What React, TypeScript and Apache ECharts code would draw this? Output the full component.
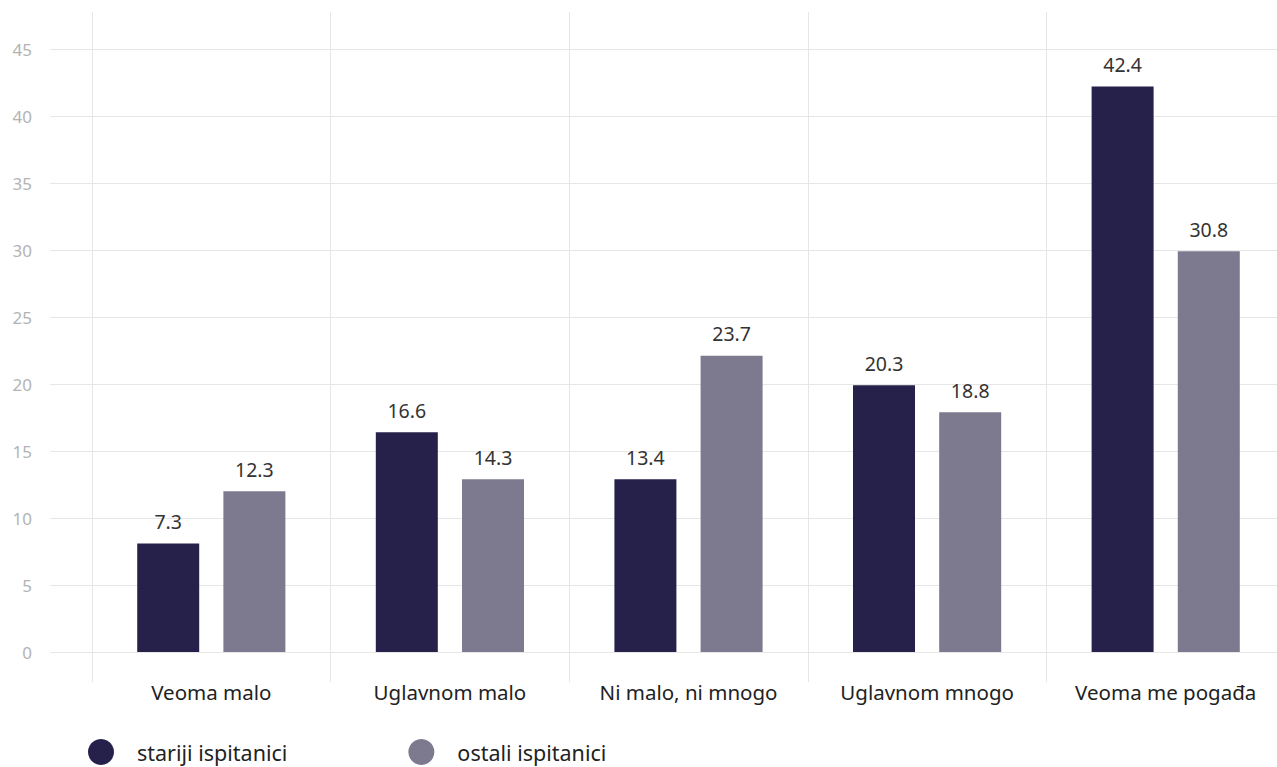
import React, { useEffect, useRef } from "react";
import * as echarts from "echarts";

const categories = ["Veoma malo", "Uglavnom malo", "Ni malo, ni mnogo", "Uglavnom mnogo", "Veoma me pogađa"];
const seriesNames = ["stariji ispitanici", "ostali ispitanici"];
// bar heights as drawn
const olderValues = [8.1, 16.4, 12.9, 19.9, 42.2];
const otherValues = [12.0, 12.9, 22.1, 17.9, 29.9];
// labels as printed
const olderLabels = ["7.3", "16.6", "13.4", "20.3", "42.4"];
const otherLabels = ["12.3", "14.3", "23.7", "18.8", "30.8"];

const FONT = "'Noto Sans', 'Open Sans', sans-serif";

export default function App() {
  const ref = useRef<HTMLDivElement>(null);
  useEffect(() => {
    document.body.style.margin = "0";
    const chart = echarts.init(ref.current!, null, { renderer: "svg" });
    const labelStyle = (labels: string[]) => ({
      show: true,
      position: "top",
      distance: 12,
      color: "#333",
      fontSize: 19.5,
      fontFamily: FONT,
      formatter: (p: any) => labels[p.dataIndex],
    });
    chart.setOption({
      animation: false,
      textStyle: { fontFamily: FONT },
      grid: [
        { left: 50, right: 13, top: 49, bottom: 115 },
        { left: 92, width: 1193, top: 12, bottom: 85 },
        { left: 92, width: 1193, top: 49, bottom: 115 },
      ],
      xAxis: [
        { type: "value", gridIndex: 0, show: false },
        {
          type: "category",
          gridIndex: 1,
          data: categories,
          axisLine: { show: false },
          axisTick: { show: false },
          splitLine: { show: true, lineStyle: { color: "#e6e6e6", width: 1 } },
          axisLabel: { color: "#222", fontSize: 20.5, margin: -1, fontFamily: FONT },
        },
        { type: "category", gridIndex: 2, data: categories, show: false },
      ],
      yAxis: [
        {
          type: "value",
          gridIndex: 0,
          min: 0,
          max: 45,
          interval: 5,
          axisLine: { show: false },
          axisTick: { show: false },
          splitLine: { show: true, lineStyle: { color: "#e6e6e6", width: 1 } },
          axisLabel: { color: "#b3b3b3", fontSize: 17, margin: 18, fontFamily: FONT },
        },
        { type: "value", gridIndex: 1, show: false },
        { type: "value", gridIndex: 2, min: 0, max: 45, show: false },
      ],
      legend: {
        data: seriesNames,
        left: 83,
        top: 734,
        icon: "circle",
        itemWidth: 26,
        itemHeight: 26,
        itemGap: 121,
        textStyle: { color: "#222", fontSize: 21.5, fontFamily: FONT, padding: [0, 0, 0, 18] },
      },
      series: [
        {
          name: seriesNames[0],
          type: "bar",
          xAxisIndex: 2,
          yAxisIndex: 2,
          data: olderValues,
          barWidth: 62,
          barGap: "39%",
          itemStyle: { color: "#26214a" },
          label: labelStyle(olderLabels),
        },
        {
          name: seriesNames[1],
          type: "bar",
          xAxisIndex: 2,
          yAxisIndex: 2,
          data: otherValues,
          barWidth: 62,
          barGap: "39%",
          itemStyle: { color: "#7d798f" },
          label: labelStyle(otherLabels),
        },
      ],
    });
    return () => chart.dispose();
  }, []);
  return (
    <div style={{ width: 1277, height: 767, overflow: "hidden" }}>
      <div ref={ref} style={{ width: 1290, height: 767 }} />
    </div>
  );
}
